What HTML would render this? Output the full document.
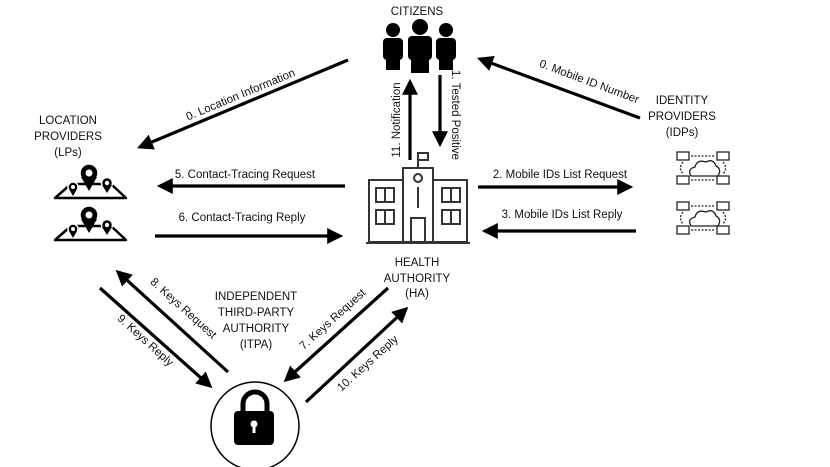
<!DOCTYPE html>
<html><head><style>
html,body{margin:0;padding:0;background:#fff;}
svg{display:block;}
text{font-family:"Liberation Sans",sans-serif;font-size:11.5px;fill:#111;}
</style></head><body>
<svg width="830" height="467" viewBox="0 0 830 467" xmlns="http://www.w3.org/2000/svg">
<defs>
<marker id="a" markerWidth="5" markerHeight="5" refX="4" refY="2.5" orient="auto" markerUnits="strokeWidth">
<path d="M0,0 L5,2.5 L0,5 z" fill="#000"/>
</marker>
</defs>
<g stroke="#000" stroke-width="3.2" fill="none" marker-end="url(#a)">
<line x1="348" y1="60" x2="140" y2="147"/>
<line x1="640" y1="118" x2="480" y2="59"/>
<line x1="410" y1="160" x2="410" y2="82"/>
<line x1="440" y1="75" x2="440" y2="144"/>
<line x1="345" y1="186" x2="160" y2="186"/>
<line x1="155" y1="236" x2="340" y2="236"/>
<line x1="478" y1="187" x2="630" y2="187"/>
<line x1="636" y1="231" x2="485" y2="231"/>
<line x1="228" y1="372" x2="118" y2="272"/>
<line x1="100" y1="288" x2="210" y2="386"/>
<line x1="388" y1="288" x2="286" y2="380"/>
<line x1="306" y1="402" x2="406" y2="309"/>
</g>
<text x="242" y="98" text-anchor="middle" transform="rotate(-22.7 242 98)">0. Location Information</text>
<text x="588" y="85" text-anchor="middle" transform="rotate(20.5 588 85)">0. Mobile ID Number</text>
<text x="400" y="120" text-anchor="middle" transform="rotate(-90 400 120)">11. Notification</text>
<text x="452" y="115" text-anchor="middle" transform="rotate(90 452 115)">1. Tested Positive</text>
<text x="245" y="178" text-anchor="middle">5. Contact-Tracing Request</text>
<text x="242" y="221" text-anchor="middle">6. Contact-Tracing Reply</text>
<text x="560" y="178" text-anchor="middle">2. Mobile IDs List Request</text>
<text x="562" y="218" text-anchor="middle">3. Mobile IDs List Reply</text>
<text x="181" y="311" text-anchor="middle" transform="rotate(42 181 311)">8. Keys Request</text>
<text x="143" y="343" text-anchor="middle" transform="rotate(42 143 343)">9. Keys Reply</text>
<text x="335" y="322" text-anchor="middle" transform="rotate(-42 335 322)">7. Keys Request</text>
<text x="370" y="366" text-anchor="middle" transform="rotate(-42 370 366)">10. Keys Reply</text>
<text x="417" y="15" text-anchor="middle">CITIZENS</text>
<text x="68" y="124" text-anchor="middle">LOCATION</text>
<text x="68" y="140" text-anchor="middle">PROVIDERS</text>
<text x="68" y="156" text-anchor="middle">(LPs)</text>
<text x="682" y="104" text-anchor="middle">IDENTITY</text>
<text x="682" y="120" text-anchor="middle">PROVIDERS</text>
<text x="682" y="136" text-anchor="middle">(IDPs)</text>
<text x="417" y="266" text-anchor="middle">HEALTH</text>
<text x="417" y="282" text-anchor="middle">AUTHORITY</text>
<text x="417" y="297" text-anchor="middle">(HA)</text>
<text x="256" y="300" text-anchor="middle">INDEPENDENT</text>
<text x="256" y="316" text-anchor="middle">THIRD-PARTY</text>
<text x="256" y="332" text-anchor="middle">AUTHORITY</text>
<text x="256" y="348" text-anchor="middle">(ITPA)</text>
<g fill="#000">
<circle cx="393" cy="30" r="7"/><rect x="383" y="38" width="20" height="22" rx="4"/><rect x="386" y="55" width="14" height="15"/>
<circle cx="420" cy="27" r="8"/><rect x="408" y="36" width="24" height="24" rx="4"/><rect x="411" y="55" width="18" height="18"/>
<circle cx="446" cy="30" r="7"/><rect x="436" y="38" width="20" height="22" rx="4"/><rect x="439" y="55" width="14" height="15"/>
</g>
<g stroke="#333" stroke-width="2" fill="none">
<rect x="369" y="180" width="34" height="62"/>
<rect x="433" y="180" width="34" height="62"/>
<rect x="403" y="168" width="30" height="74"/>
<line x1="418" y1="168" x2="418" y2="152"/>
<rect x="418" y="153" width="10" height="7"/>
<circle cx="418" cy="178" r="4"/>
<line x1="418" y1="187" x2="418" y2="208"/>
<rect x="411" y="218" width="14" height="24"/>
<rect x="376" y="188" width="18" height="14"/><line x1="385" y1="188" x2="385" y2="202"/>
<rect x="376" y="210" width="18" height="14"/><line x1="385" y1="210" x2="385" y2="224"/>
<rect x="442" y="188" width="18" height="14"/><line x1="451" y1="188" x2="451" y2="202"/>
<rect x="442" y="210" width="18" height="14"/><line x1="451" y1="210" x2="451" y2="224"/>
<line x1="366" y1="243" x2="470" y2="243"/>
</g>
<g id="map">
<path d="M55,198 L71,184 L111,184 L126,198 Z" stroke="#000" stroke-width="2.5" fill="none" stroke-linejoin="round"/>
<circle cx="89" cy="173" r="9" fill="#000" stroke="#fff" stroke-width="1.5"/><path d="M81,177 L89,191 L97,177 Z" fill="#000"/><circle cx="89" cy="173" r="3.5" fill="#fff"/>
<circle cx="73" cy="187" r="5" fill="#000" stroke="#fff" stroke-width="1.5"/><path d="M69,189 L73,196 L77,189 Z" fill="#000"/><circle cx="73" cy="187" r="2" fill="#fff"/>
<circle cx="107" cy="183" r="5.5" fill="#000" stroke="#fff" stroke-width="1.5"/><path d="M102,185 L107,193 L112,185 Z" fill="#000"/><circle cx="107" cy="183" r="2.2" fill="#fff"/>
</g>
<use href="#map" y="42"/>
<g id="idp" stroke="#222" stroke-width="1.3" fill="none">
<rect x="677" y="152" width="12" height="8"/><rect x="717" y="152" width="12" height="8"/>
<rect x="677" y="176" width="12" height="8"/><rect x="717" y="176" width="12" height="8"/>
<path d="M691,156 L715,156 M691,180 L715,180 M683,162 Q678,168 683,174 M723,162 Q728,168 723,174" stroke-dasharray="2,1.5"/>
<path d="M691,176 q-4,-7 4,-9 q2,-8 11,-5 q7,-4 10,4 q6,3 2,10 z"/>
</g>
<use href="#idp" y="50"/>
<circle cx="255" cy="426" r="44" stroke="#000" stroke-width="1.5" fill="none"/>
<path d="M243,414 v-10 a12,12 0 0 1 24,0 v10" stroke="#000" stroke-width="5" fill="none"/>
<rect x="234" y="411" width="40" height="34" rx="4" fill="#000"/>
<circle cx="254" cy="424" r="3.5" fill="#fff"/><rect x="252.5" y="425" width="3" height="8" fill="#fff"/>
</svg>
</body></html>
